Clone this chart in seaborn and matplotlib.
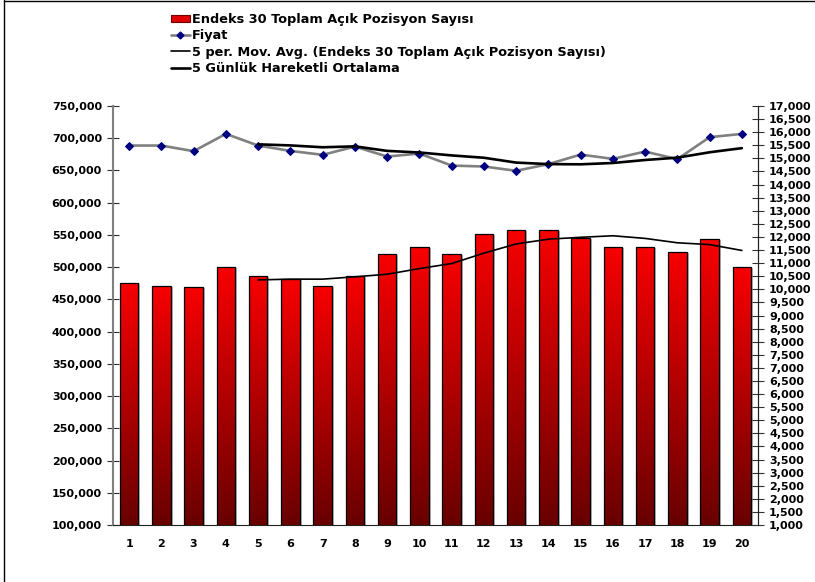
import numpy as np
import pandas as pd
import matplotlib
matplotlib.use("Agg")
import matplotlib.pyplot as plt
import matplotlib.transforms as mtransforms
from matplotlib.colors import LinearSegmentedColormap
from matplotlib.patches import Rectangle
from matplotlib.lines import Line2D
from matplotlib.ticker import StrMethodFormatter, MultipleLocator, FixedLocator
import seaborn as sns

# veriler
gunler = [str(i) for i in range(1, 21)]
acik_pozisyon = [475000, 471000, 468500, 500000, 486500, 481000, 471000, 486500, 520000, 530500,
                 520000, 551500, 558000, 557000, 545000, 532000, 531000, 524000, 543000, 499500]
fiyat = [15490, 15490, 15275, 15935, 15490, 15285, 15135, 15450, 15070, 15185,
         14725, 14690, 14525, 14780, 15145, 14980, 15260, 14970, 15810, 15935]
# 5 periyotluk ortalamalar (5. günden itibaren)
pozisyon_ort = [480200, 481400, 481400, 485000, 489000, 497800, 505600, 521700, 536000, 543400,
                546300, 548700, 544600, 537800, 535000, 525900]
fiyat_ort = [15536, 15495, 15424, 15459, 15286, 15225, 15113, 15024, 14839, 14781,
             14773, 14824, 14938, 15027, 15233, 15391]

etiketler = ["Endeks 30 Toplam Açık Pozisyon Sayısı", "Fiyat",
             "5 per. Mov. Avg. (Endeks 30 Toplam Açık Pozisyon Sayısı)",
             "5 Günlük Hareketli Ortalama"]

sns.set_style("white")
plt.rcParams["font.family"] = ["DejaVu Sans"]
plt.rcParams["font.weight"] = "bold"
for k in ("text.color", "axes.labelcolor", "xtick.color", "ytick.color"):
    plt.rcParams[k] = "black"

fig = plt.figure(figsize=(8.15, 5.82), dpi=100)
ax = fig.add_axes([113 / 815, 1 - 525 / 582, 645 / 815, 419 / 582])

df = pd.DataFrame({"gun": gunler, "pozisyon": acik_pozisyon})
sns.barplot(data=df, x="gun", y="pozisyon", color="red", width=0.57,
            edgecolor="black", linewidth=0.9, ax=ax, zorder=3)
ax.set_ylim(100000, 750000)
ax.set_xlim(-0.5, 19.5)

# bar gradient + golge
cmap = LinearSegmentedColormap.from_list("kirmizi", ["#680000", "#b00000", "#f80000"])
grad = np.linspace(0, 1, 256).reshape(-1, 1)
shadow_tr = ax.transData + mtransforms.ScaledTranslation(2 / 100, -1 / 100, fig.dpi_scale_trans)
for p in list(ax.patches):
    x0, w, h = p.get_x(), p.get_width(), p.get_height()
    p.set_facecolor("none")
    sh = Rectangle((x0, 0), w, h, transform=shadow_tr, facecolor="#b8b8b8",
                   edgecolor="none", zorder=1.5)
    ax.add_patch(sh)
    im = ax.imshow(grad, cmap=cmap, origin="lower", aspect="auto",
                   extent=(x0, x0 + w, 100000, h), zorder=2.5)
    im.set_clip_path(p)
ax.set_xlim(-0.5, 19.5)
ax.set_ylim(100000, 750000)

pos = np.arange(20)
sns.lineplot(x=pos[4:], y=pozisyon_ort, color="black", linewidth=1.2, ax=ax, zorder=4)

ax2 = ax.twinx()
sns.lineplot(x=pos, y=fiyat, color="#808080", linewidth=1.9, marker="D", markersize=4.5,
             markerfacecolor="#000080", markeredgecolor="#000080", ax=ax2, zorder=5)
sns.lineplot(x=pos[4:], y=fiyat_ort, color="black", linewidth=1.9, ax=ax2, zorder=6)
ax2.set_ylim(1000, 17000)
ax2.set_xlim(-0.5, 19.5)

# eksenler
ax.set_xlabel("")
ax.set_ylabel("")
ax2.set_ylabel("")
ax.yaxis.set_major_locator(MultipleLocator(50000))
ax.yaxis.set_major_formatter(StrMethodFormatter("{x:,.0f}"))
ax2.yaxis.set_major_locator(MultipleLocator(500))
ax2.yaxis.set_major_formatter(StrMethodFormatter("{x:,.0f}"))
ax.xaxis.set_minor_locator(FixedLocator(np.arange(-0.5, 20, 1)))

for a in (ax, ax2):
    a.spines["top"].set_visible(False)
    a.patch.set_visible(False)
ax.spines["left"].set_color("#808080")
ax.spines["left"].set_linewidth(1.5)
ax.spines["bottom"].set_color("#202020")
ax2.spines["right"].set_color("#202020")
ax2.spines["left"].set_visible(False)
ax2.spines["bottom"].set_visible(False)

ax.tick_params(axis="y", direction="inout", length=8, width=0.8, color="#303030",
               labelsize=8, pad=4, labelcolor="black")
ax2.tick_params(axis="y", direction="inout", length=8, width=0.8, color="#303030",
                labelsize=8, pad=4, labelcolor="black")
ax.tick_params(axis="x", which="major", length=0, labelsize=8, pad=10, labelcolor="black")
ax.tick_params(axis="x", which="minor", direction="inout", length=7, width=0.8, color="#303030")
for lbl in ax.get_xticklabels() + ax.get_yticklabels() + ax2.get_yticklabels():
    lbl.set_fontweight("bold")

# lejant
h = [Rectangle((0, 0), 1, 1, facecolor="#e00000", edgecolor="#700000", linewidth=0.8),
     Line2D([], [], color="#808080", linewidth=1.9, marker="D", markersize=3.5,
            markerfacecolor="#000080", markeredgecolor="#000080"),
     Line2D([], [], color="black", linewidth=1.2),
     Line2D([], [], color="black", linewidth=1.9)]
leg = fig.legend(h, etiketler, loc="upper left", bbox_to_anchor=(171 / 815, 1 - 13 / 582),
                 frameon=False, prop={"size": 9.3, "weight": "bold"}, handlelength=1.45,
                 handletextpad=0.15, labelspacing=0.26, borderpad=0, borderaxespad=0,
                 handleheight=0.55, labelcolor="black")

# dis cerceve
fig.add_artist(Line2D([3.5 / 815, 3.5 / 815], [0, 1], transform=fig.transFigure,
                      color="black", linewidth=1))
fig.add_artist(Line2D([3.5 / 815, 1], [1 - 0.5 / 582, 1 - 0.5 / 582], transform=fig.transFigure,
                      color="black", linewidth=1))

fig.savefig("out.png", dpi=100)
